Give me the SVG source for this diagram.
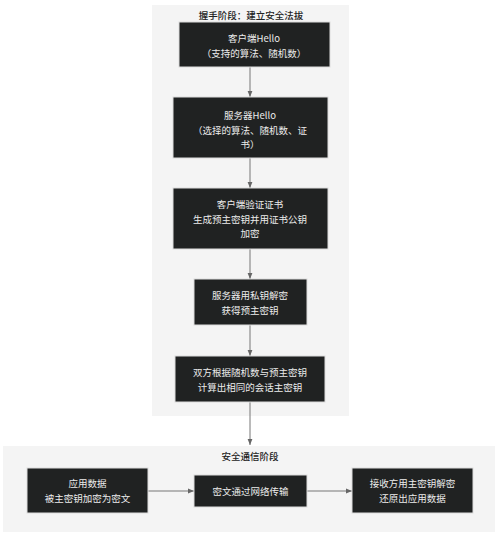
<svg xmlns="http://www.w3.org/2000/svg" width="500" height="538" viewBox="0 0 500 538">
<defs>
<marker id="ah" viewBox="0 0 10 10" refX="10" refY="5" markerWidth="6" markerHeight="6" orient="auto" markerUnits="userSpaceOnUse">
<path d="M0,1 L10,5 L0,9 z" fill="#666"/>
</marker>
<style>
.panel{fill:#f4f4f4;}
.box{fill:#202222;stroke:#dcdcdc;stroke-width:1;}
.t{font-family:"Noto Sans CJK SC","Liberation Sans",sans-serif;font-size:9.5px;fill:#ececec;text-anchor:middle;dominant-baseline:central;}
.lbl{font-family:"Noto Sans CJK SC","Liberation Sans",sans-serif;font-size:9.5px;fill:#222;text-anchor:middle;dominant-baseline:central;font-weight:500;}
.c{stroke:#777;stroke-width:1;fill:none;marker-end:url(#ah);}
</style>
</defs>
<rect width="500" height="538" fill="#ffffff"/>
<g id="panel-handshake">
<rect class="panel" x="152" y="5" width="197" height="411"/>
<text class="lbl" x="251" y="15">握手阶段：建立安全法拔</text>
</g>
<g id="panel-secure">
<rect class="panel" x="3" y="446" width="492" height="86"/>
<text class="lbl" x="250" y="456">安全通信阶段</text>
</g>
<g id="connectors">
<line class="c" x1="250" y1="67" x2="250" y2="97"/>
<line class="c" x1="250" y1="158" x2="250" y2="188"/>
<line class="c" x1="250" y1="249" x2="250" y2="279"/>
<line class="c" x1="250" y1="325" x2="250" y2="356"/>
<line class="c" x1="250" y1="402" x2="250" y2="445"/>
<line class="c" x1="148" y1="491" x2="194" y2="491"/>
<line class="c" x1="307" y1="491" x2="352" y2="491"/>
</g>
<g id="node-client-hello">
<rect class="box" x="179" y="22" width="151" height="45"/>
<text class="t" x="254" y="38">客户端Hello</text>
<text class="t" x="254" y="53">（支持的算法、随机数）</text>
</g>
<g id="node-server-hello">
<rect class="box" x="173" y="97" width="155" height="61"/>
<text class="t" x="250" y="115">服务器Hello</text>
<text class="t" x="250" y="130">（选择的算法、随机数、证</text>
<text class="t" x="250" y="144">书）</text>
</g>
<g id="node-client-verify">
<rect class="box" x="173" y="188" width="155" height="61"/>
<text class="t" x="250" y="204">客户端验证证书</text>
<text class="t" x="250" y="219">生成预主密钥并用证书公钥</text>
<text class="t" x="250" y="233">加密</text>
</g>
<g id="node-server-decrypt">
<rect class="box" x="194" y="279" width="113" height="46"/>
<text class="t" x="250" y="295">服务器用私钥解密</text>
<text class="t" x="250" y="310">获得预主密钥</text>
</g>
<g id="node-session-key">
<rect class="box" x="175" y="356" width="150" height="46"/>
<text class="t" x="250" y="372">双方根据随机数与预主密钥</text>
<text class="t" x="250" y="387">计算出相同的会话主密钥</text>
</g>
<g id="node-app-data">
<rect class="box" x="27" y="468" width="121" height="45"/>
<text class="t" x="87.5" y="483">应用数据</text>
<text class="t" x="87.5" y="498">被主密钥加密为密文</text>
</g>
<g id="node-transmit">
<rect class="box" x="194" y="475" width="113" height="32"/>
<text class="t" x="250.5" y="491">密文通过网络传输</text>
</g>
<g id="node-receiver">
<rect class="box" x="352" y="468" width="121" height="45"/>
<text class="t" x="412.5" y="483">接收方用主密钥解密</text>
<text class="t" x="412.5" y="498">还原出应用数据</text>
</g>
</svg>
